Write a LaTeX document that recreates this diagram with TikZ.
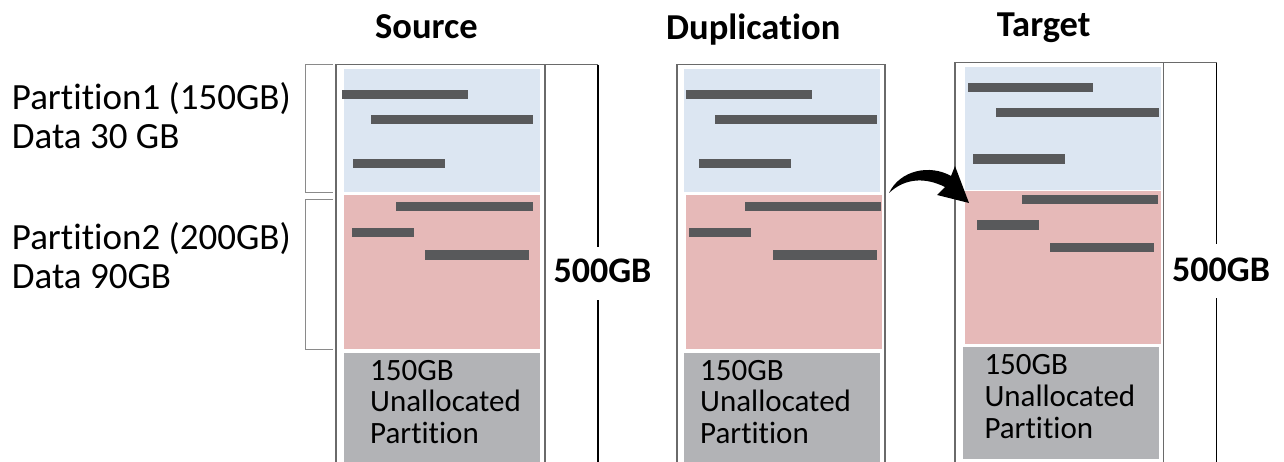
\documentclass[tikz,border=0pt]{standalone}
\usepackage{fontspec}
\setmainfont{Carlito}[Ligatures={NoCommon,NoContextual,NoRare},Contextuals=NoAlternate]
\definecolor{pblue}{HTML}{DCE6F2}
\definecolor{pred}{HTML}{E6B9B8}
\definecolor{pgray}{HTML}{B2B3B6}
\definecolor{pbar}{HTML}{58595B}
\definecolor{framec}{HTML}{6A6A6A}
\definecolor{brkc}{HTML}{8A8A8A}
\tikzset{
  lbl/.style={anchor=base west, inner sep=0pt, font=\fontsize{37}{38}\selectfont},
  ttl/.style={anchor=base west, inner sep=0pt, font=\fontsize{36.5}{38}\selectfont\bfseries},
  sz/.style={anchor=base west, inner sep=0pt, font=\fontsize{36}{38}\selectfont\bfseries},
  una/.style={anchor=base west, inner sep=0pt, font=\fontsize{31}{32}\selectfont},
  fr/.style={draw=framec, line width=1.3pt},
  dim/.style={draw=black, line width=1.3pt},
  brk/.style={draw=brkc, line width=1pt},
  bar/.style={fill=pbar}
}
\begin{document}
\begin{tikzpicture}[x=1pt,y=-1pt]
\useasboundingbox (0,0) rectangle (1284,462);

% titles
\node[ttl] (srct) at (375,38.3) {Source};
\node[ttl] (dupt) at (666,39.3) {Duplica\kern0pt tion};
\node[ttl] (tgtt) at (996.7,36.7) {Target};

% left labels
\node[lbl] (p1a) at (11.7,110) {Parti\kern0pt tion1 (150GB)};
\node[lbl] (p1b) at (11.7,148.3) {Data 30 GB};
\node[lbl] (p2a) at (11.7,250) {Parti\kern0pt tion2 (200GB)};
\node[lbl] (p2b) at (11.7,288) {Data 90GB};

% brackets
\draw[brk] (333,64.3) -- (305.7,64.3) -- (305.7,192.7) -- (333,192.7);
\draw[brk] (333,200) -- (305.7,200) -- (305.7,349.3) -- (333,349.3);

% ---------- Source ----------
\fill[pblue] (344,69) rectangle (540,191.7);
\fill[pred] (344,195) rectangle (540,349);
\fill[pgray] (344,352.7) rectangle (540,462);
\fill[bar] (342.3,90) rectangle (468.3,99.3);
\fill[bar] (371,115) rectangle (533.3,124.3);
\fill[bar] (352.7,158.7) rectangle (445.3,168);
\fill[bar] (396,202) rectangle (532.7,211.3);
\fill[bar] (352,227.7) rectangle (414,237);
\fill[bar] (424.7,250.3) rectangle (529,260);
\draw[fr] (336,462) -- (336,64.7) -- (598,64.7);
\draw[fr] (545,64.7) -- (545,462);
\draw[dim] (598,64.7) -- (598,247);
\draw[dim] (598,300) -- (598,462);
\node[sz] (srcsz) at (553.3,282.3) {500GB};
\node[una] (su1) at (370,380) {150GB};
\node[una] (su2) at (370,411.7) {Unallocated};
\node[una] (su3) at (370,443.3) {Parti\kern0pt tion};

% ---------- Duplication ----------
\fill[pblue] (684,69) rectangle (880,191.7);
\fill[pred] (686,195) rectangle (882,349);
\fill[pgray] (684,352.7) rectangle (880,462);
\fill[bar] (686,90) rectangle (812,99.3);
\fill[bar] (715,115) rectangle (877,124.3);
\fill[bar] (699,158.7) rectangle (791.3,168);
\fill[bar] (745.3,202) rectangle (881,211.3);
\fill[bar] (688.7,227.7) rectangle (750.7,237);
\fill[bar] (773,250.3) rectangle (877,260);
\draw[fr] (677,462) -- (677,64.7) -- (885,64.7) -- (885,462);
\node[una] (du1) at (700,380) {150GB};
\node[una] (du2) at (700,411.7) {Unallocated};
\node[una] (du3) at (700,443.3) {Parti\kern0pt tion};

% ---------- Target ----------
\fill[pblue] (965,66.7) rectangle (1161,190);
\fill[pred] (965,191.3) rectangle (1161,344.3);
\fill[pgray] (962.7,346.7) rectangle (1159,459.3);
\fill[bar] (967.7,82.7) rectangle (1093.3,92);
\fill[bar] (996.3,107.7) rectangle (1158.7,117);
\fill[bar] (973,154.3) rectangle (1065.3,164);
\fill[bar] (1021.7,194.7) rectangle (1157.7,204);
\fill[bar] (977,220.3) rectangle (1039.3,229.7);
\fill[bar] (1050,243) rectangle (1154,252.3);
\draw[fr] (955,462) -- (955,62.7) -- (1216.7,62.7);
\draw[fr] (1163.3,62.7) -- (1163.3,462);
\draw[dim] (1216.7,62.7) -- (1216.7,244);
\draw[dim] (1216.7,298.3) -- (1216.7,462);
\node[sz] (tgtsz) at (1172,281.7) {500GB};
\node[una] (tu1) at (984.3,374.3) {150GB};
\node[una] (tu2) at (984.3,406.7) {Unallocated};
\node[una] (tu3) at (984.3,438.3) {Parti\kern0pt tion};

% ---------- curved arrow ----------
\coordinate (arrtail) at (889,193);
\coordinate (arrtip) at (969,203);
\fill[black] (arrtail) .. controls (900,170) and (930,164) .. (951,176)
  -- (955,166) -- (arrtip) -- (937,195) -- (945,187)
  .. controls (925,177) and (905,178) .. (arrtail) -- cycle;
\end{tikzpicture}
\end{document}
